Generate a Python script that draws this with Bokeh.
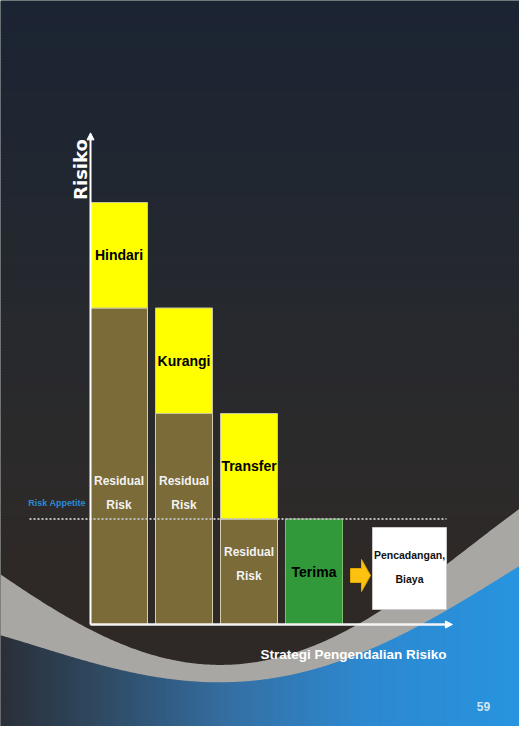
import numpy as np
from bokeh.plotting import figure
from bokeh.models import Range1d, ColumnDataSource, Arrow, NormalHead
from bokeh.core.properties import value
from bokeh.embed import file_html
from bokeh.resources import INLINE

# ---------------- data ----------------
strategies = ["Hindari", "Kurangi", "Transfer", "Terima"]
residual_risk = [3, 2, 1, 0]
treated_risk = [1, 1, 1, 0]
accepted_risk = [0, 0, 0, 1]
risk_appetite = 1
residual_label = "Residual\nRisk"
outcome_label = "Pencadangan,\nBiaya"
y_title = "Risiko"
x_title = "Strategi Pengendalian Risiko"
appetite_label = "Risk Appetite"
page_no = "59"

# ---------------- layout ----------------
W, H = 519, 726
X0, DX = 126.5, 65.0     # screen x of first bar centre, bar spacing
Y0, DY = 632.0, 105.5    # screen y of baseline, px per risk level
XL, XR, YT, YB = 8, 8 + W, 8, 8 + H
FONT = "Liberation Sans"

p = figure(width=W, height=H, output_backend="svg", toolbar_location=None,
           x_range=Range1d((XL - X0) / DX, (XR - X0) / DX),
           y_range=Range1d((Y0 - YB) / DY, (Y0 - YT) / DY),
           x_axis_location=None, y_axis_location=None, min_border=0)
p.extra_x_ranges = {"px": Range1d(XL, XR)}
p.extra_y_ranges = {"px": Range1d(YB, YT)}
p.grid.visible = False
p.outline_line_color = None
p.background_fill_color = "#262a30"
p.border_fill_color = "#262a30"
PX = dict(x_range_name="px", y_range_name="px")


def hex2rgb(h):
    h = h.lstrip("#")
    return [int(h[i:i + 2], 16) for i in (0, 2, 4)]


def grad(stops, t):
    pos = [s[0] for s in stops]
    cols = np.array([hex2rgb(s[1]) for s in stops], dtype=float)
    out = []
    for tt in np.atleast_1d(t):
        c = [np.interp(tt, pos, cols[:, k]) for k in range(3)]
        out.append("#%02x%02x%02x" % tuple(int(round(v)) for v in c))
    return out


# dark vertical gradient background
ys = np.arange(YT, YB, 3.0)
dark = grad([(8, "#1b2433"), (250, "#23282f"), (450, "#2b2a2b"), (600, "#2f2926"), (734, "#2f2926")], ys + 1.5)
p.quad(left=XL, right=XR, top=ys, bottom=ys + 4, fill_color=dark, line_color=None, **PX)

# grey crescent (upper boundary)
ux = [7, 67, 100, 133, 197, 230, 270, 320, 353, 383, 460, 494, 527]
uy = [583, 617, 637, 652, 673, 678, 670, 648, 635, 620, 573, 543, 513]
lx = [7, 67, 133, 197, 230, 287, 353, 420, 453, 494, 527]
ly = [643, 660, 677, 690, 692, 685, 662, 637, 622, 593, 573]
up = np.poly1d(np.polyfit(ux, uy, 4))
lo = np.poly1d(np.polyfit(lx, ly, 4))
gx = np.linspace(XL, XR, 260)
p.varea(x=gx, y1=up(gx), y2=np.full_like(gx, float(YB)), fill_color="#a9a7a3", **PX)

# blue gradient below crescent
step = 3.0
bx = np.arange(XL, XR, step)
blue = grad([(8, "#2a2f38"), (110, "#2f4a63"), (240, "#3470a4"), (370, "#2d88cf"), (527, "#2894df")], bx + step / 2)
xs_list, ys_list = [], []
for x0 in bx:
    x1 = x0 + step + 0.6
    xs_list.append([x0, x1, x1, x0])
    ys_list.append([lo(x0), lo(x1), YB, YB])
p.patches(xs=xs_list, ys=ys_list, fill_color=blue, line_color=None, **PX)

# ---------------- bars ----------------
idx = list(range(len(strategies)))
bw = 57 / DX
outline = "#d4cdb0"

res = ColumnDataSource(dict(x=[i for i in idx if residual_risk[i] > 0],
                            top=[residual_risk[i] for i in idx if residual_risk[i] > 0]))
p.vbar(x="x", top="top", bottom=0, width=bw, source=res,
       fill_color="#7a6b38", line_color=outline, line_width=1)

trt = ColumnDataSource(dict(x=[i for i in idx if treated_risk[i] > 0],
                            bottom=[residual_risk[i] for i in idx if treated_risk[i] > 0],
                            top=[residual_risk[i] + treated_risk[i] for i in idx if treated_risk[i] > 0],
                            label=[strategies[i] for i in idx if treated_risk[i] > 0]))
p.vbar(x="x", top="top", bottom="bottom", width=bw, source=trt,
       fill_color="#ffff00", line_color="#c8c8a0", line_width=1)

acc = ColumnDataSource(dict(x=[i for i in idx if accepted_risk[i] > 0],
                            top=[accepted_risk[i] for i in idx if accepted_risk[i] > 0],
                            label=[strategies[i] for i in idx if accepted_risk[i] > 0]))
p.vbar(x="x", top="top", bottom=0, width=bw, source=acc,
       fill_color="#31993a", line_color="#7fbf6f", line_width=1)

# labels in bars
p.text(x=trt.data["x"], y=[(b + t) / 2 for b, t in zip(trt.data["bottom"], trt.data["top"])],
       text=trt.data["label"], text_font=value(FONT), text_font_style="bold",
       text_font_size="14px", text_color="#000000", text_align="center", text_baseline="middle")
p.text(x=acc.data["x"], y=[t / 2 for t in acc.data["top"]], text=acc.data["label"],
       text_font=value(FONT), text_font_style="bold", text_font_size="14px",
       text_color="#000000", text_align="center", text_baseline="middle")
p.text(x=res.data["x"], y=[1.25 if r > 1 else r / 2 + 0.07 for r in res.data["top"]],
       text=[residual_label] * len(res.data["x"]), text_font=value(FONT), text_font_style="bold",
       text_font_size="12px", text_color="#f2f2f2", text_align="center", text_baseline="middle",
       text_line_height=1.7)

# risk appetite line
p.segment(x0=[37], x1=[454], y0=[risk_appetite], y1=[risk_appetite], x_range_name="px",
          line_color="#bdbdbd", line_width=2, line_dash="2 2")
p.text(x=[64.5], y=[risk_appetite + 0.15], text=[appetite_label], x_range_name="px",
       text_font=value(FONT), text_font_style="bold", text_font_size="9px",
       text_color="#2a8ad6", text_align="center", text_baseline="middle")

# axes arrows
p.add_layout(Arrow(end=NormalHead(size=7, fill_color="#ffffff", line_color="#ffffff"),
                   x_start=-bw / 2, y_start=0, x_end=-bw / 2, y_end=4.66,
                   line_color="#ffffff", line_width=2))
p.add_layout(Arrow(end=NormalHead(size=7, fill_color="#ffffff", line_color="#ffffff"),
                   x_start=-bw / 2, y_start=0, x_end=5.13, y_end=0,
                   line_color="#f4f4f4", line_width=2.5))

# outcome: arrow + box
p.patch(x=[358, 369, 369, 378, 369, 369, 358], y=[576, 576, 567, 583, 599, 590, 590],
        fill_color="#fcc20f", line_color="#e0a800", line_width=1, **PX)
p.quad(left=[380], right=[454], top=[535], bottom=[617], fill_color="#ffffff",
       line_color="#c8c8c8", line_width=1, **PX)
p.text(x=[417], y=[574], text=[outcome_label], text_font=value(FONT), text_font_style="bold",
       text_font_size="10.5px", text_color="#111111", text_align="center", text_baseline="middle",
       text_line_height=2.0, **PX)

# titles
p.text(x=[88], y=[177], text=[y_title], angle=np.pi / 2, text_font=value("DejaVu Sans"),
       text_font_style="bold", text_font_size="18px", text_color="#ffffff",
       text_align="center", text_baseline="middle", **PX)
p.text(x=[361], y=[662], text=[x_title], text_font=value(FONT), text_font_style="bold",
       text_font_size="13.5px", text_color="#ffffff", text_align="center", text_baseline="middle", **PX)
p.text(x=[491], y=[714], text=[page_no], text_font=value(FONT), text_font_style="bold",
       text_font_size="12px", text_color="#d3e5f3", text_align="center", text_baseline="middle", **PX)

open("out.html", "w").write(file_html(p, INLINE))
